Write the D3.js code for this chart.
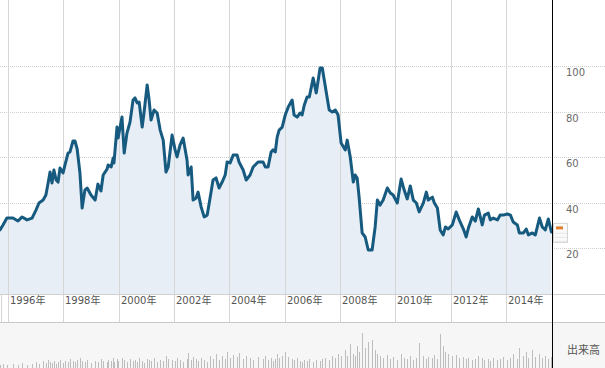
<!DOCTYPE html>
<html><head><meta charset="utf-8">
<script src="https://cdn.jsdelivr.net/npm/d3@7"></script>
<style>
html,body{margin:0;padding:0;background:#fff;}
svg{display:block;}
text{font-family:"DejaVu Sans","Noto Sans CJK JP",sans-serif;}
</style></head>
<body>
<svg id="c" width="605" height="368"></svg>
<script>
// dates as decimal years
const dates = [1995.71,1995.82,1995.96,1996.18,1996.36,1996.51,1996.69,1996.87,1997.01,1997.12,1997.27,1997.37,1997.45,1997.52,1997.59,1997.66,1997.74,1997.81,1997.88,1997.99,
1998.06,1998.17,1998.24,1998.35,1998.42,1998.50,1998.60,1998.68,1998.78,1998.86,1999.00,1999.15,1999.25,1999.36,1999.44,1999.58,1999.62,1999.73,1999.80,1999.83,
1999.94,1999.98,2000.12,2000.20,2000.30,2000.41,2000.52,2000.59,2000.67,2000.74,2000.85,2000.92,2001.03,2001.10,2001.17,2001.28,2001.39,2001.50,2001.61,2001.71,
2001.79,2001.93,2002.04,2002.11,2002.22,2002.33,2002.47,2002.51,2002.62,2002.69,2002.80,2002.87,2002.98,2003.09,2003.20,2003.31,2003.41,2003.52,2003.63,2003.74,
2003.85,2003.92,2004.03,2004.14,2004.28,2004.35,2004.50,2004.61,2004.75,2004.86,2005.04,2005.22,2005.30,2005.40,2005.51,2005.58,2005.66,2005.73,2005.80,2005.91,
2006.02,2006.13,2006.27,2006.34,2006.45,2006.56,2006.63,2006.71,2006.81,2006.89,2007.03,2007.14,2007.28,2007.36,2007.46,2007.61,2007.72,2007.83,2007.93,2008.04,
2008.19,2008.26,2008.37,2008.48,2008.55,2008.62,2008.69,2008.80,2008.91,2009.02,2009.16,2009.27,2009.35,2009.45,2009.56,2009.71,2009.82,2009.92,2010.07,2010.21,
2010.32,2010.43,2010.54,2010.65,2010.76,2010.86,2011.01,2011.12,2011.19,2011.34,2011.41,2011.52,2011.62,2011.73,2011.81,2011.91,2012.06,2012.20,2012.31,2012.46,
2012.56,2012.64,2012.78,2012.89,2013.00,2013.14,2013.22,2013.36,2013.43,2013.54,2013.69,2013.79,2013.90,2014.05,2014.16,2014.26,2014.41,2014.48,2014.63,2014.73,
2014.81,2014.95,2015.06,2015.21,2015.31,2015.42,2015.53,2015.64];

const prices = [28.1,30.3,33.3,33.3,32.0,33.8,32.5,33.3,36.8,39.9,41.2,43.4,48.7,53.5,48.7,54.4,50.0,49.1,55.3,53.1,
56.6,61.8,62.3,67.1,67.1,63.6,53.1,37.7,45.6,46.5,43.4,41.2,48.2,45.2,52.2,54.8,56.6,55.7,59.6,57.5,
73.2,68.4,77.6,61.8,70.6,75.4,85.1,86.0,83.8,84.2,73.2,79.8,91.7,85.1,76.3,80.7,79.4,71.9,67.5,53.5,
55.7,69.7,63.2,60.1,65.4,68.4,58.8,52.2,55.7,41.2,42.1,44.7,38.2,33.8,34.6,42.5,50.0,50.9,46.5,49.1,
52.2,57.9,57.5,61.0,61.0,57.9,54.4,50.0,52.2,55.7,57.9,57.9,55.7,55.7,62.3,63.2,62.3,68.9,71.9,73.2,
78.5,82.0,85.1,78.5,77.6,79.4,78.5,82.9,86.4,86.4,94.7,88.2,99.1,99.1,91.7,80.7,79.8,80.7,78.5,66.2,
63.2,67.5,60.1,49.1,52.2,50.9,42.5,26.8,25.0,19.3,19.3,29.4,41.2,39.0,41.2,46.5,44.3,43.4,39.9,50.4,
45.6,41.7,47.4,41.2,39.9,36.0,39.9,44.7,41.2,42.5,39.9,37.7,28.1,25.9,29.4,28.5,30.3,36.0,32.5,28.5,
25.0,28.9,33.8,32.0,37.3,30.3,34.6,35.5,32.5,33.3,32.5,34.6,34.6,35.1,34.6,31.6,30.3,26.8,26.8,28.5,
25.9,26.8,25.9,33.3,29.4,28.1,32.9,27.2];

const volumes = [3,4,3,4,3,5,3,4,6,4,7,5,8,6,5,7,4,6,8,5,
7,6,9,7,6,8,10,7,6,8,5,7,6,9,7,6,8,7,10,6,
9,7,10,8,6,9,7,8,6,10,7,5,9,8,7,10,6,8,7,12,
9,8,7,10,8,6,9,15,8,11,9,7,10,8,6,12,9,14,8,12,
9,16,10,13,11,15,9,12,10,8,11,9,12,8,10,7,9,14,10,12,
16,11,9,8,10,7,6,8,7,9,6,8,7,9,10,8,12,10,14,12,
18,12,24,14,12,22,16,35,20,26,28,18,14,12,10,13,9,11,8,14,
10,9,12,8,10,25,12,9,11,10,13,9,34,22,16,14,12,13,10,11,
9,10,8,9,12,10,8,9,7,10,8,9,11,8,10,14,9,20,12,16,
10,18,11,14,10,12,9,11];

const yearTicks = [1996,1998,2000,2002,2004,2006,2008,2010,2012,2014];
const priceTicks = [20,40,60,80,100];
const volumeLabel = "出来高";
const lastPrice = 29;

const W = 605, H = 368;
const plotRight = 552, plotBottom = 294, labelBottom = 322;
const svg = d3.select("#c");

const x = d3.scaleLinear().domain([1995.711, 2015.662]).range([0, plotRight]);
const y = d3.scaleLinear().domain([0, 100]).range([plotBottom, 66]);
const yv = d3.scaleLinear().domain([0, 46]).range([H, labelBottom]);

// volume panel background
svg.append("rect").attr("x",0).attr("y",labelBottom).attr("width",W).attr("height",H-labelBottom).attr("fill","#f6f6f6");

// horizontal dotted grid
svg.append("g").selectAll("line").data(priceTicks).join("line")
  .attr("x1",0).attr("x2",W).attr("y1",d=>Math.round(y(d))+0.5).attr("y2",d=>Math.round(y(d))+0.5)
  .attr("stroke","#cfcfcf").attr("stroke-dasharray","1,1");

// area
const pts = dates.map((d,i)=>({d, v:prices[i]}));
svg.append("path").datum(pts)
  .attr("d", d3.area().x(p=>x(p.d)).y0(plotBottom).y1(p=>y(p.v)))
  .attr("fill","#e8eef6");

// vertical grid lines
svg.append("g").selectAll("line").data(yearTicks).join("line")
  .attr("x1",d=>Math.round(x(d))+0.5).attr("x2",d=>Math.round(x(d))+0.5)
  .attr("y1",0).attr("y2",labelBottom)
  .attr("stroke","#d6d6d6");
svg.append("line").attr("x1",1.5).attr("x2",1.5).attr("y1",plotBottom).attr("y2",labelBottom).attr("stroke","#d6d6d6");

// horizontal borders
svg.append("line").attr("x1",0).attr("x2",W).attr("y1",plotBottom+0.5).attr("y2",plotBottom+0.5).attr("stroke","#d0d0d0");
svg.append("line").attr("x1",0).attr("x2",W).attr("y1",labelBottom+0.5).attr("y2",labelBottom+0.5).attr("stroke","#c8c8c8");

// price line
svg.append("path").datum(pts)
  .attr("d", d3.line().x(p=>x(p.d)).y(p=>y(p.v)))
  .attr("fill","none").attr("stroke","#175a80").attr("stroke-width",3)
  .attr("stroke-linejoin","round").attr("stroke-linecap","round");

// volume bars
svg.append("g").selectAll("rect").data(dates).join("rect")
  .attr("x",d=>Math.round(x(d)))
  .attr("y",(d,i)=>yv(volumes[i]))
  .attr("width",1)
  .attr("height",(d,i)=>H-yv(volumes[i]))
  .attr("fill","#bdbdbd");

// x labels
svg.append("g").selectAll("text").data(yearTicks).join("text")
  .attr("x",d=>Math.round(x(d))+2).attr("y",304)
  .attr("font-size",10).attr("fill","#555")
  .text(d=>d+"年");

// y labels
svg.append("g").selectAll("text").data(priceTicks).join("text")
  .attr("x",566).attr("y",d=>y(d)+10)
  .attr("font-size",10).attr("fill","#6a6a6a")
  .text(d=>d);

// volume label
svg.append("text").attr("x",567).attr("y",354).attr("font-size",11).attr("fill","#555")
  .attr("font-family","'Noto Sans CJK JP',sans-serif").text(volumeLabel);

// right divider
svg.append("line").attr("x1",plotRight+0.5).attr("x2",plotRight+0.5).attr("y1",0).attr("y2",H)
  .attr("stroke","#000").attr("stroke-width",1);

// last price marker
const my = y(lastPrice);
const mg = svg.append("g");
mg.append("rect").attr("x",plotRight+1.5).attr("y",my-4.5).attr("width",14).attr("height",19)
  .attr("fill","#fafafa").attr("stroke","#d4d4d4");
[5,9,13].forEach(o=>mg.append("line").attr("x1",plotRight+3).attr("x2",plotRight+15)
  .attr("y1",my+o+0.5).attr("y2",my+o+0.5).attr("stroke","#e6e6e6"));
mg.append("rect").attr("x",plotRight+4).attr("y",my-1.5).attr("width",7).attr("height",3).attr("fill","#e0802e");
</script>
</body></html>
